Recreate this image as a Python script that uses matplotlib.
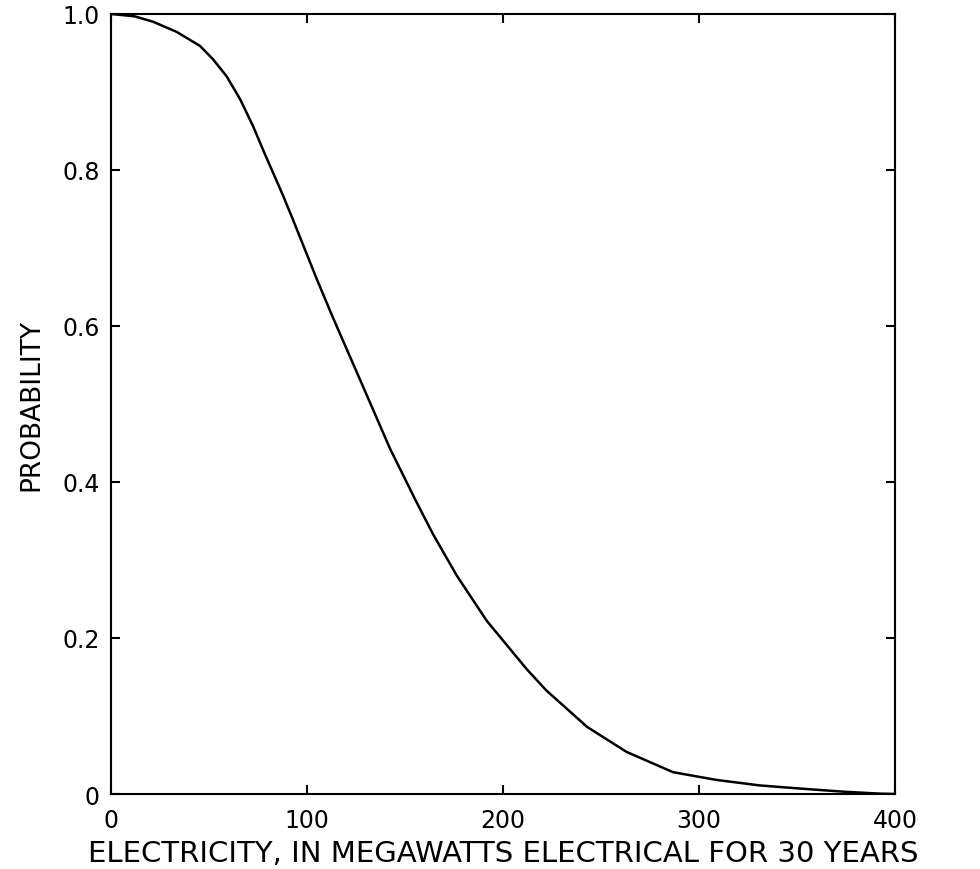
"""Probability curve: electricity output (MWe for 30 years) vs exceedance probability."""
import matplotlib
matplotlib.use("Agg")
import matplotlib.pyplot as plt

# values
mwe = [0, 12, 21.5, 33.5, 45.4, 52, 59, 65.8, 72.5, 77.7, 87.8, 92.7, 105, 113,
       126.9, 142.3, 155.1, 164.3, 176.4, 191.7, 212.1, 222, 242.9, 263, 286.7,
       309, 331, 351.5, 373.5, 392, 400]
prob = [1.0, 0.997, 0.990, 0.977, 0.959, 0.942, 0.920, 0.891, 0.856, 0.825,
        0.767, 0.737, 0.660, 0.612, 0.532, 0.443, 0.378, 0.333, 0.280, 0.222,
        0.160, 0.133, 0.086, 0.054, 0.028, 0.018, 0.011, 0.007, 0.003, 0.0005, 0.0]

x_ticks = [0, 100, 200, 300, 400]
x_ticklabels = ["0", "100", "200", "300", "400"]
y_ticks = [0, 0.2, 0.4, 0.6, 0.8, 1.0]
y_ticklabels = ["0", "0.2", "0.4", "0.6", "0.8", "1.0"]

plt.rcParams["font.family"] = ["DejaVu Sans"]

fig = plt.figure(figsize=(9.8, 8.7), dpi=100)
ax = fig.add_axes([0.1133, 0.0862, 0.80, 0.8966])

ax.plot(mwe, prob, color="black", lw=1.8, solid_joinstyle="round")

ax.set_xlim(0, 400)
ax.set_ylim(0, 1.0)
ax.set_xticks(x_ticks)
ax.set_xticklabels(x_ticklabels)
ax.set_yticks(y_ticks)
ax.set_yticklabels(y_ticklabels)
ax.tick_params(direction="in", length=6.5, width=1.5, top=True, right=True,
               labelsize=17, pad=8)
ax.tick_params(axis="x", pad=10)
for sp in ax.spines.values():
    sp.set_linewidth(1.5)

ax.set_xlabel("ELECTRICITY, IN MEGAWATTS ELECTRICAL FOR 30 YEARS", fontsize=21,
              labelpad=5)
ax.set_ylabel("PROBABILITY", fontsize=19, labelpad=13)

fig.savefig("out.png", dpi=100)
